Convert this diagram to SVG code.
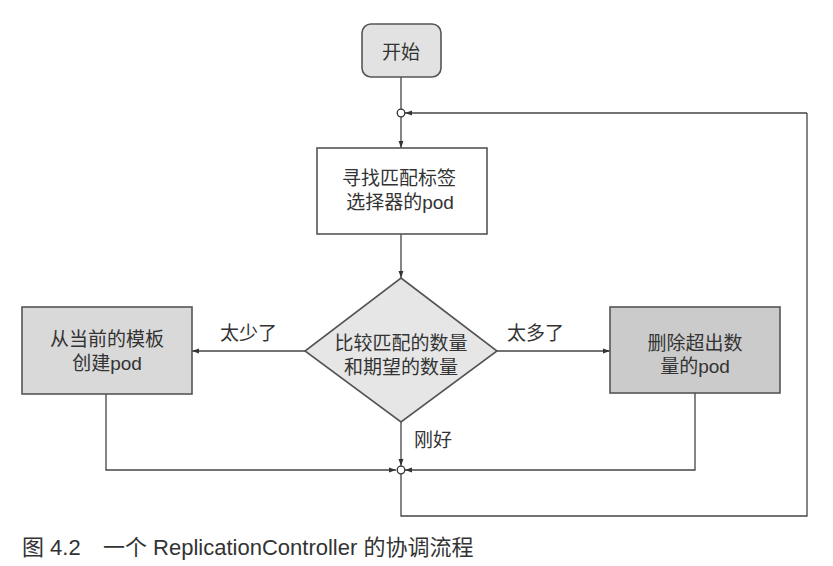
<svg xmlns="http://www.w3.org/2000/svg" width="833" height="566" viewBox="0 0 833 566">
<style>
.t{font-family:"Liberation Sans","Noto Sans CJK SC",sans-serif;font-size:19px;fill:#333;text-anchor:middle}
.lb{font-family:"Liberation Sans","Noto Sans CJK SC",sans-serif;font-size:19px;fill:#333}
.ln{fill:none;stroke:#444;stroke-width:1.3}
.nd{stroke:#555;stroke-width:1.6}
</style>
<defs>
<marker id="ah" viewBox="0 0 10 10" refX="10" refY="5" markerWidth="10" markerHeight="7" markerUnits="userSpaceOnUse" orient="auto">
<path d="M0,1.5 L10,5 L0,8.5 Z" fill="#333"/>
</marker>
</defs>
<rect width="833" height="566" fill="#fff"/>
<g id="connectors">
<path class="ln" d="M401,77 L401,109"/>
<path class="ln" d="M401,117 L401,148" marker-end="url(#ah)"/>
<path class="ln" d="M807,113 L405,113" marker-end="url(#ah)"/>
<path class="ln" d="M401,234 L401,278" marker-end="url(#ah)"/>
<path class="ln" d="M305,351 L192,351" marker-end="url(#ah)"/>
<path class="ln" d="M497,351 L610,351" marker-end="url(#ah)"/>
<path class="ln" d="M401,422 L401,466" marker-end="url(#ah)"/>
<path class="ln" d="M106,394 L106,470 L396,470" marker-end="url(#ah)"/>
<path class="ln" d="M695,393 L695,470 L405,470" marker-end="url(#ah)"/>
<path class="ln" d="M401,474 L401,516 L807,516 L807,113"/>
<circle cx="401" cy="113" r="3.8" fill="#fff" stroke="#333" stroke-width="1.3"/>
<circle cx="401" cy="470" r="3.8" fill="#fff" stroke="#333" stroke-width="1.3"/>
<text class="lb" x="220" y="340">太少了</text>
<text class="lb" x="507" y="340">太多了</text>
<text class="lb" x="414" y="447">刚好</text>
</g>
<g id="start">
<rect class="nd" x="362" y="24" width="79" height="53" rx="9" fill="#e2e2e2"/>
<text class="t" x="401" y="59">开始</text>
</g>
<g id="find">
<rect class="nd" x="317" y="148" width="170" height="86" fill="#fff"/>
<text class="t" x="399" y="185">寻找匹配标签</text>
<text class="t" x="400" y="209">选择器的pod</text>
</g>
<g id="compare">
<polygon class="nd" points="401,278 497,351 401,422 305,351" fill="#e6e6e6"/>
<text class="t" x="401" y="350">比较匹配的数量</text>
<text class="t" x="401" y="374">和期望的数量</text>
</g>
<g id="create">
<rect class="nd" x="22" y="307" width="170" height="87" fill="#d9d9d9"/>
<text class="t" x="107" y="346">从当前的模板</text>
<text class="t" x="107" y="370">创建pod</text>
</g>
<g id="delete">
<rect class="nd" x="610" y="307" width="170" height="86" fill="#cbcbcb"/>
<text class="t" x="695" y="350">删除超出数</text>
<text class="t" x="695" y="373">量的pod</text>
</g>
<text class="lb" y="555" style="font-size:22px"><tspan x="22">图 4.2</tspan><tspan x="103">一个 ReplicationController 的协调流程</tspan></text>
</svg>
